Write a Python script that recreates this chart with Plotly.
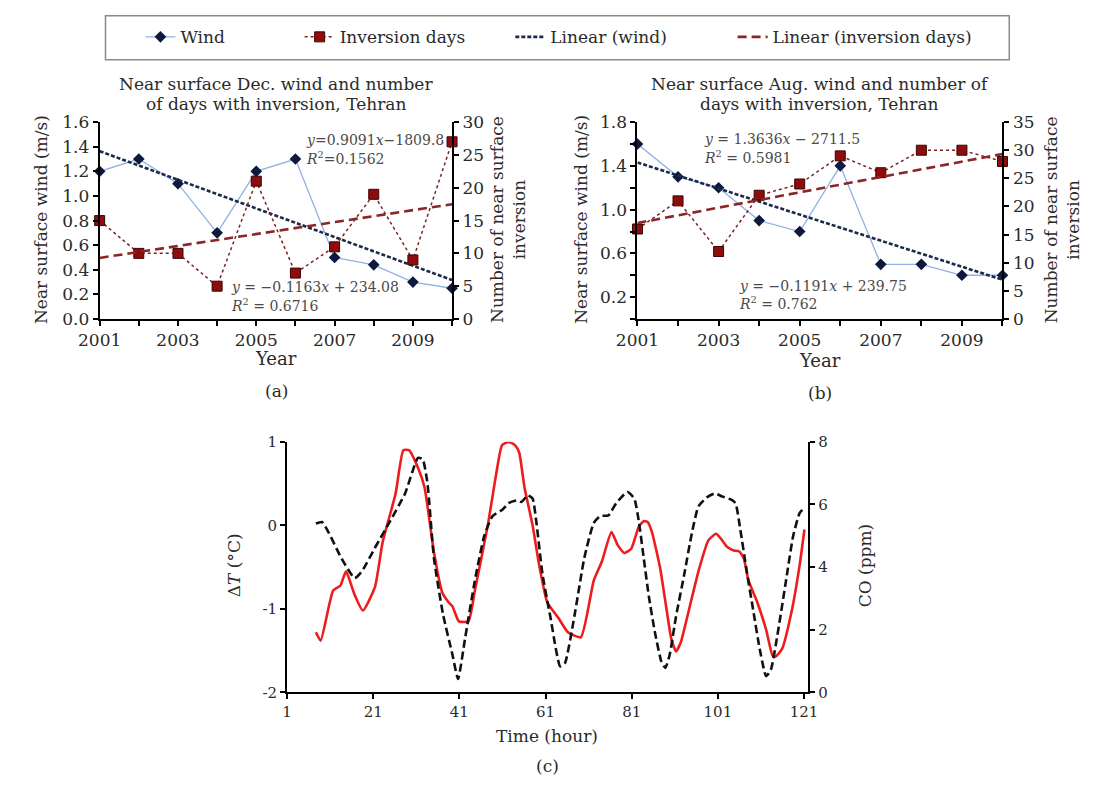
import plotly.graph_objects as go

W, H = 1095, 794
SERIF = "DejaVu Serif, Liberation Serif, serif"
INK = "#2a2a2a"

# ---- Panels (a) and (b): yearly wind and inversion days, Tehran ----
years = list(range(2001, 2011))
year_labels = [2001, 2003, 2005, 2007, 2009]
dec_wind = [1.2, 1.3, 1.1, 0.7, 1.2, 1.3, 0.5, 0.44, 0.3, 0.25]
dec_inv_days = [15, 10, 10, 5, 21, 7, 11, 19, 9, 27]
aug_wind = [1.6, 1.3, 1.2, 0.9, 0.8, 1.4, 0.5, 0.5, 0.4, 0.4]
aug_inv_days = [16, 21, 12, 22, 24, 29, 26, 30, 30, 28]

# linear trend equations (slope, intercept) as printed on the panels
dec_wind_fit = (-0.1163, 234.08)
dec_inv_fit = (0.9091, -1809.8)
aug_wind_fit = (-0.1191, 239.75)
aug_inv_fit = (1.3636, -2711.5)

# ---- Panel (c): hourly temperature difference and CO ----
dt_hours = [7.7, 8.8, 11.7, 13.4, 14.7, 16.6, 18.6, 21.4, 23.2, 26.2, 28.0, 29.3,
            31.4, 32.9, 35.1, 37.0, 38.5, 39.4, 40.9, 43.1, 44.6, 47.6, 49.4, 50.9,
            52.4, 53.9, 54.9, 56.1, 58.0, 59.5, 61.4, 64.0, 66.2, 69.2, 72.2, 74.1,
            76.3, 77.8, 79.3, 80.9, 82.7, 83.8, 84.7, 85.7, 87.6, 89.1, 90.2, 91.3,
            92.4, 94.3, 96.5, 98.8, 100.6, 101.7, 103.2, 104.7, 105.9, 107.0, 108.1,
            110.0, 112.2, 113.7, 114.4, 115.9, 118.2, 120.0, 121.1]
dt_values = [-1.28, -1.38, -0.78, -0.72, -0.55, -0.82, -1.02, -0.74, -0.20, 0.38, 0.90, 0.90,
             0.69, 0.46, -0.32, -0.80, -0.92, -0.97, -1.15, -1.15, -0.78, 0.0, 0.57, 0.96,
             1.0, 0.96, 0.87, 0.46, 0.0, -0.47, -0.92, -1.11, -1.28, -1.34, -0.66, -0.43,
             -0.08, -0.24, -0.33, -0.28, -0.01, 0.05, 0.04, -0.08, -0.51, -1.01, -1.36, -1.51,
             -1.40, -1.01, -0.55, -0.18, -0.10, -0.16, -0.26, -0.30, -0.31, -0.39, -0.66,
             -0.90, -1.25, -1.56, -1.57, -1.48, -1.01, -0.47, -0.05]

co_hours = [7.7, 9.1, 10.6, 13.6, 16.7, 18.4, 21.7, 24.7, 28.4, 31.4, 32.5, 33.6,
            35.1, 37.2, 39.4, 40.7, 42.3, 44.6, 46.8, 48.7, 50.9, 52.4, 54.3, 55.4,
            56.9, 58.0, 58.8, 60.3, 62.1, 64.4, 65.5, 67.7, 70.0, 72.2, 73.7, 75.6,
            77.4, 80.0, 81.6, 82.7, 83.8, 85.0, 86.4, 87.9, 88.8, 89.8, 91.3, 93.2,
            95.0, 96.5, 98.4, 100.3, 102.1, 104.0, 105.1, 106.2, 107.7, 109.2, 110.7,
            112.2, 113.3, 114.8, 116.7, 118.5, 120.0, 121.0]
co_values = [5.39, 5.44, 5.12, 4.29, 3.65, 3.87, 4.69, 5.41, 6.35, 7.49, 7.44, 6.67,
             4.29, 2.50, 1.20, 0.43, 1.70, 3.57, 5.01, 5.63, 5.82, 6.04, 6.13, 6.08,
             6.29, 6.19, 5.52, 3.77, 2.43, 0.83, 0.93, 2.43, 4.29, 5.41, 5.63, 5.65,
             6.04, 6.40, 6.19, 5.42, 4.28, 3.05, 1.91, 0.98, 0.78, 1.19, 2.43, 3.77,
             5.11, 5.94, 6.22, 6.35, 6.25, 6.16, 6.04, 5.21, 3.87, 2.63, 1.40,
             0.52, 0.72, 1.81, 3.46, 5.01, 5.73, 5.88]

hour_ticks = [1, 21, 41, 61, 81, 101, 121]


def px(x):
    return x / W


def py(y):
    return 1 - y / H


def trend(fit, xs):
    a, b = fit
    return [a * x + b for x in xs]


WIND_LINE = "#8fb1e3"
WIND_MARK = "#0d1a3d"
INV_LINE = "#7a2222"
INV_MARK = "#8e0c0c"
FIT_WIND = "#1c2b4a"
FIT_INV = "#8a2626"

fig = go.Figure()
ends = [years[0], years[-1]]

panels = [
    ("x", "y", "y2", dec_wind, dec_inv_days, dec_wind_fit, dec_inv_fit, True),
    ("x2", "y3", "y4", aug_wind, aug_inv_days, aug_wind_fit, aug_inv_fit, False),
]
for xa, ya, ya2, wind, inv, wfit, ifit, show in panels:
    fig.add_trace(go.Scatter(
        x=years, y=wind, xaxis=xa, yaxis=ya, name="Wind", mode="lines+markers",
        line=dict(color=WIND_LINE, width=1.3),
        marker=dict(symbol="diamond", size=9, color=WIND_MARK),
        cliponaxis=False, showlegend=show, legend="legend"))
    fig.add_trace(go.Scatter(
        x=years, y=inv, xaxis=xa, yaxis=ya2, name="Inversion days", mode="lines+markers",
        line=dict(color=INV_LINE, width=1.5, dash="dot"),
        marker=dict(symbol="square", size=10, color=INV_MARK,
                    line=dict(color="#3a0505", width=1)),
        cliponaxis=False, showlegend=show, legend="legend2"))
    fig.add_trace(go.Scatter(
        x=ends, y=trend(wfit, ends), xaxis=xa, yaxis=ya, name="Linear (wind)",
        mode="lines", line=dict(color=FIT_WIND, width=2.6, dash="4px,2px"),
        cliponaxis=False, showlegend=show, legend="legend3"))
    fig.add_trace(go.Scatter(
        x=ends, y=trend(ifit, ends), xaxis=xa, yaxis=ya2, name="Linear (inversion days)",
        mode="lines", line=dict(color=FIT_INV, width=2.6, dash="9px,5px"),
        cliponaxis=False, showlegend=show, legend="legend4"))

fig.add_trace(go.Scatter(
    x=dt_hours, y=dt_values, xaxis="x3", yaxis="y5", mode="lines",
    line=dict(color="#ee1c1c", width=2.6, shape="spline", smoothing=0.5),
    showlegend=False, name="ΔT"))
fig.add_trace(go.Scatter(
    x=co_hours, y=co_values, xaxis="x3", yaxis="y6", mode="lines",
    line=dict(color="#111111", width=2.6, dash="8px,4px", shape="spline", smoothing=0.5),
    showlegend=False, name="CO"))

axis_common = dict(showline=True, linecolor="black", linewidth=2, ticks="outside",
                   ticklen=5, tickwidth=1.5, tickcolor="black", showgrid=False,
                   zeroline=False, tickfont=dict(family=SERIF, size=17, color=INK))
minor_year = dict(tick0=2001, dtick=1, ticks="outside", ticklen=5, tickwidth=1.5,
                  tickcolor="black", showgrid=False)
minor_wind = dict(tick0=0, dtick=0.2, ticks="outside", ticklen=5, tickwidth=1.5,
                  tickcolor="black", showgrid=False)

small_font = dict(family=SERIF, size=15, color=INK)

fig.update_layout(
    width=W, height=H, margin=dict(l=0, r=0, t=0, b=0),
    paper_bgcolor="white", plot_bgcolor="white",
    xaxis=dict(axis_common, domain=[px(80), px(443)], range=[2001, 2010], anchor="y",
               tickvals=year_labels, minor=minor_year),
    yaxis=dict(axis_common, domain=[py(317), py(115)], range=[0, 1.6], anchor="x",
               tickvals=[round(0.2 * i, 1) for i in range(9)], tickformat=".1f"),
    yaxis2=dict(axis_common, overlaying="y", side="right", anchor="x", range=[0, 30],
                tickvals=list(range(0, 31, 5))),
    xaxis2=dict(axis_common, domain=[px(634), px(1010)], range=[2001, 2010], anchor="y3",
                tickvals=year_labels, minor=minor_year),
    yaxis3=dict(axis_common, domain=[py(317), py(115)], range=[0, 1.8], anchor="x2",
                tickvals=[0.2, 0.6, 1.0, 1.4, 1.8], tickformat=".1f", minor=minor_wind),
    yaxis4=dict(axis_common, overlaying="y3", side="right", anchor="x2", range=[0, 35],
                tickvals=list(range(0, 36, 5))),
    xaxis3=dict(axis_common, domain=[px(273), px(810)], range=[1, 122], anchor="y5",
                tickvals=hour_ticks, tickfont=small_font),
    yaxis5=dict(axis_common, domain=[py(700), py(443)], range=[-2, 1], anchor="x3",
                tickvals=[-2, -1, 0, 1], ticktext=["-2", "-1", "0", "1"], tickfont=small_font),
    yaxis6=dict(axis_common, overlaying="y5", side="right", anchor="x3", range=[0, 8],
                tickvals=[0, 2, 4, 6, 8], tickfont=small_font),
)

# legend: four single-entry legends inside one framed box
legend_font = dict(family=SERIF, size=17, color=INK)
for key, left in [("legend", 122), ("legend2", 286), ("legend3", 503), ("legend4", 732)]:
    fig.update_layout({key: dict(x=px(left), y=py(28), xanchor="left", yanchor="middle",
                                 orientation="h", bgcolor="rgba(0,0,0,0)", borderwidth=0,
                                 font=legend_font, itemwidth=30)})
fig.add_shape(type="rect", xref="paper", yref="paper", x0=px(86), x1=px(1017),
              y0=py(51), y1=py(6), line=dict(color="#8a8a8a", width=1.5))

ann = []


def text(x, y, s, size=16, angle=0, xanchor="center", color=INK):
    ann.append(dict(x=px(x), y=py(y), xref="paper", yref="paper", text=s, showarrow=False,
                    textangle=angle, xanchor=xanchor, yanchor="middle",
                    font=dict(family=SERIF, size=size, color=color)))


# panel titles
text(262, 76, "Near surface Dec. wind and number", 17)
text(262, 96, "of days with inversion, Tehran", 17)
text(822, 76, "Near surface Aug. wind and number of", 17)
text(822, 96, "days with inversion, Tehran", 17)

# axis titles
text(19, 215, "Near surface wind (m/s)", 17, -90)
text(575, 215, "Near surface wind (m/s)", 17, -90)
text(500, 215, "Number of near surface<br>inversion", 17, -90)
text(1071, 215, "Number of near surface<br>inversion", 17, -90)
text(262, 358, "Year", 18)
text(822, 360, "Year", 18)
text(218, 570, "Δ<i>T</i> (°C)", 17, -90)
text(868, 570, "CO (ppm)", 17, -90)
text(541, 745, "Time (hour)", 17)

# sub-figure labels
text(262, 391, "(a)", 17)
text(822, 393, "(b)", 17)
text(541, 776, "(c)", 17)

# trend equations
eq_color = "#4a4a4a"
eq_size = 14
text(291, 133, "<i>y</i>=0.9091<i>x</i>−1809.8", eq_size, xanchor="left", color=eq_color)
text(291, 152, "<i>R</i><sup>2</sup>=0.1562", eq_size, xanchor="left", color=eq_color)
text(213, 284, "<i>y</i> = −0.1163<i>x</i> + 234.08", eq_size, xanchor="left", color=eq_color)
text(213, 303, "<i>R</i><sup>2</sup> = 0.6716", eq_size, xanchor="left", color=eq_color)
text(700, 132, "<i>y</i> = 1.3636<i>x</i> − 2711.5", eq_size, xanchor="left", color=eq_color)
text(700, 151, "<i>R</i><sup>2</sup> = 0.5981", eq_size, xanchor="left", color=eq_color)
text(737, 283, "<i>y</i> = −0.1191<i>x</i> + 239.75", eq_size, xanchor="left", color=eq_color)
text(737, 301, "<i>R</i><sup>2</sup> = 0.762", eq_size, xanchor="left", color=eq_color)

fig.update_layout(annotations=ann)
fig.write_html("out.html")
